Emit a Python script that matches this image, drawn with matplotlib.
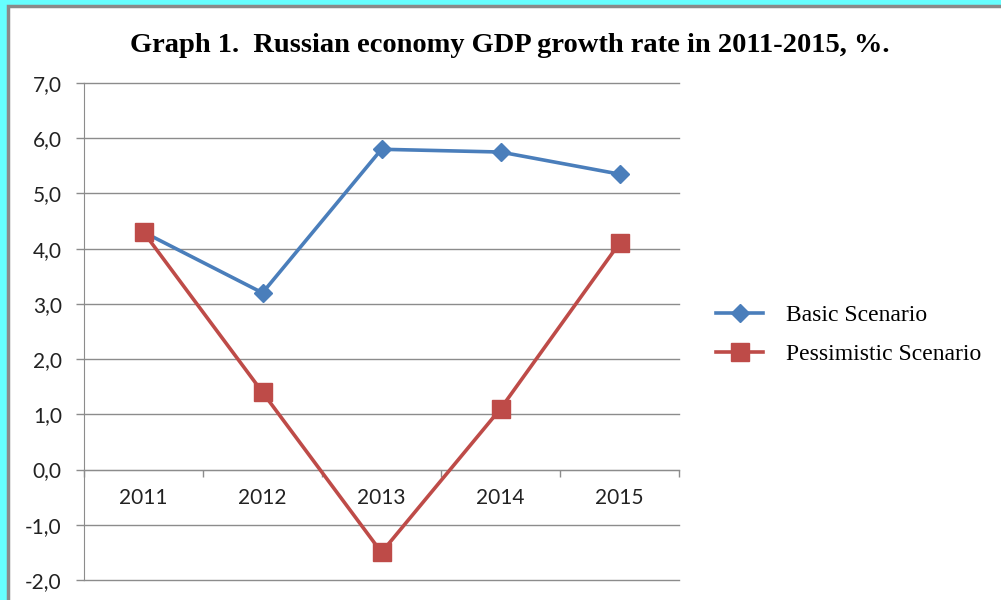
import matplotlib.pyplot as plt
from matplotlib.patches import Rectangle

# data
years = ['2011', '2012', '2013', '2014', '2015']
basic = [4.3, 3.2, 5.8, 5.75, 5.35]
pessimistic = [4.3, 1.4, -1.5, 1.1, 4.1]
y_ticks = [-2, -1, 0, 1, 2, 3, 4, 5, 6, 7]

blue = '#4A7EBB'
red = '#BE4B48'
grey = '#8C8C8C'

fig = plt.figure(figsize=(10.01, 6.0), dpi=100)
fig.patch.set_facecolor('#66FFFF')

# white panel with grey border
W, H = 1001, 600
panel = Rectangle((8 / W, -0.1), 1.2, 1 - 6 / H + 0.1,
                  transform=fig.transFigure, facecolor='white',
                  edgecolor='#8A8A8A', linewidth=2.5, zorder=-10)
fig.patches.append(panel)

ax = fig.add_axes([84 / W, 1 - 580 / H, (679 - 84) / W, (580 - 83) / H])
ax.set_facecolor('none')

x = list(range(len(years)))
ax.plot(x, basic, color=blue, lw=2.6, marker='D', ms=9.5,
        label='Basic Scenario', zorder=3)
ax.plot(x, pessimistic, color=red, lw=2.6, marker='s', ms=13,
        label='Pessimistic Scenario', zorder=3)

ax.set_xlim(-0.5, 4.5)
ax.set_ylim(-2, 7)

for v in y_ticks:
    ax.axhline(v, color=grey, lw=1.0, zorder=1, clip_on=False)

ax.set_yticks(y_ticks)
ax.set_yticklabels([f'{v:.1f}'.replace('.', ',') for v in y_ticks],
                   fontsize=15, family='Lato', color='#222222')
ax.tick_params(axis='y', direction='out', length=6, width=1,
               color=grey, pad=10)

ax.spines['bottom'].set_position(('data', 0))
ax.spines['bottom'].set_color(grey)
ax.spines['left'].set_color(grey)
ax.spines['right'].set_visible(False)
ax.spines['top'].set_visible(False)

ax.set_xticks(x)
ax.set_xticklabels(years, fontsize=15, family='Lato', color='#222222')
ax.set_xticks([i - 0.5 for i in range(len(years) + 1)], minor=True)
ax.tick_params(axis='x', which='major', length=0, pad=13)
ax.tick_params(axis='x', which='minor', direction='out', length=5,
               width=1, color=grey)

fig.text(510 / W, 1 - 45 / H,
         'Graph 1.  Russian economy GDP growth rate in 2011-2015, %.',
         ha='center', va='center', fontsize=20.5, fontweight='bold',
         family='Liberation Serif')

ax.legend(loc='center left', bbox_to_anchor=(695 / W, 1 - 335 / H),
          bbox_transform=fig.transFigure, frameon=False,
          prop={'family': 'Liberation Serif', 'size': 17},
          handlelength=2.0, labelspacing=0.75, handletextpad=0.95)

fig.savefig('out.png', dpi=100, facecolor=fig.get_facecolor())
